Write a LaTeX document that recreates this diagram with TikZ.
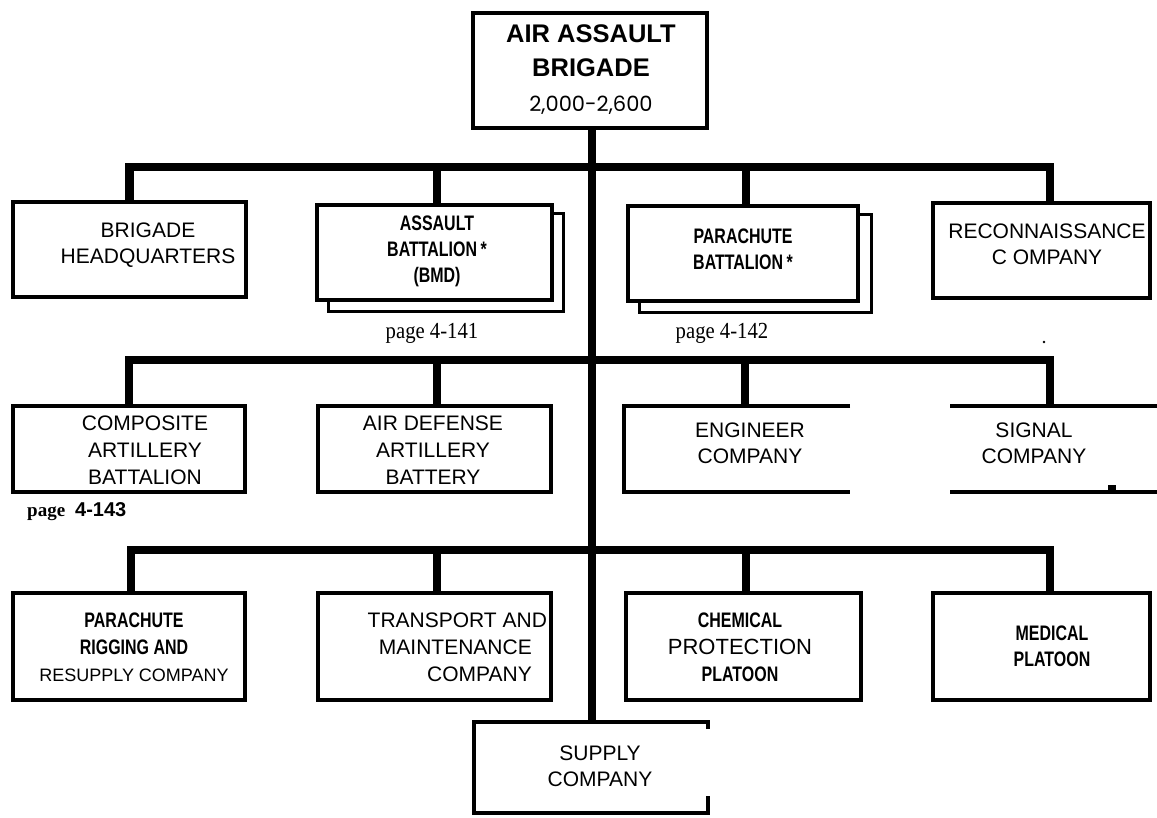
\documentclass[tikz,border=0pt]{standalone}
\usepackage{fontspec}
\setmainfont{Liberation Sans}
\newfontfamily\condb[FakeStretch=0.76]{Liberation Sans}
\newfontfamily\pagefont[FakeStretch=0.9]{Liberation Serif}
\newfontfamily\serifb{Liberation Serif}
\newfontfamily\numfont{Poppins}
\newcommand{\condtxt}{\condb\bfseries\fontsize{21}{26}\selectfont}
\tikzset{
  box/.style={draw, line width=3.5pt, fill=white, inner sep=0pt},
  frame/.style={inner sep=0pt, outer sep=0pt},
  edge/.style={line width=3.5pt, line join=miter},
  shadowedge/.style={line width=3pt, line join=miter},
  bus/.style={line width=8.5pt, line join=miter},
  stub/.style={line width=8.5pt},
  trunk/.style={line width=8pt},
  txt/.style={align=center, inner sep=0pt, font=\fontsize{21}{26}\selectfont},
  txtiii/.style={align=center, inner sep=0pt, font=\fontsize{21}{27}\selectfont},
  pagelbl/.style={inner sep=0pt, font=\pagefont\fontsize{23}{24}\selectfont},
}
\begin{document}
\begin{tikzpicture}[x=1pt,y=-1pt]
\fill[white] (0,0) rectangle (1157,817);
\useasboundingbox (0,0) rectangle (1157,817);

\coordinate (r1) at (0,167);
\coordinate (r2) at (0,360);
\coordinate (r3) at (0,550);

% boxes
\node[box, minimum width=234pt, minimum height=115pt] (top) at (590,70.5) {};
\node[box, minimum width=233pt, minimum height=95pt] (hq) at (129.5,249.5) {};
\node[box, minimum width=235pt, minimum height=95pt] (as) at (434.5,252.5) {};
\node[box, minimum width=230pt, minimum height=95pt] (pa) at (743,253.5) {};
\node[box, minimum width=217pt, minimum height=95pt] (rc) at (1041.5,250.5) {};

\node[box, minimum width=232pt, minimum height=86pt] (cp) at (129,449) {};
\node[box, minimum width=233pt, minimum height=86pt] (ad) at (434.5,449) {};
\node[frame, minimum width=226pt, minimum height=86pt] (en) at (737,449) {};
\node[frame, minimum width=210pt, minimum height=86pt] (sg) at (1055,449) {};

\node[box, minimum width=232pt, minimum height=107pt] (pr) at (129,646.5) {};
\node[box, minimum width=233pt, minimum height=107pt] (tm) at (434.5,646.5) {};
\node[box, minimum width=235pt, minimum height=107pt] (ch) at (743.5,646.5) {};
\node[box, minimum width=217pt, minimum height=107pt] (md) at (1041.5,646.5) {};

\node[frame, minimum width=234pt, minimum height=91pt] (sp) at (591,767.5) {};

% shadows of the battalion boxes
\draw[shadowedge] ([yshift=-10pt]as.north east) -| ([shift={(10pt,-10pt)}]as.south east) -| ([xshift=13pt]as.south west);
\draw[shadowedge] ([yshift=-10pt]pa.north east) -| ([shift={(12pt,-10pt)}]pa.south east) -| ([xshift=13pt]pa.south west);

% open frames
\draw[edge] (en.north east) -- (en.north west) -- (en.south west) -- (en.south east);
\draw[edge] (sg.north west) -- (sg.north east);
\draw[edge] (sg.south west) -- (sg.south east);
\draw[edge] (sp.north east) ++(0,7) -- (sp.north east) -- (sp.north west) -- (sp.south west) -- (sp.south east) -- ++(0,-17);
\fill (1108,485) rectangle (1116,492);
\fill (1044,342) circle (1.3);

% trunk
\draw[trunk] ([xshift=2pt]top.south) -- ([xshift=2pt]top.south |- sp.north);

% row 1
\draw[bus] (hq.north) |- ([xshift=8.5pt]rc.north |- r1) -- ([xshift=8.5pt]rc.north);
\draw[stub] ([xshift=2.5pt]as.north) -- ([xshift=2.5pt]as.north |- r1);
\draw[stub] ([xshift=3pt]pa.north) -- ([xshift=3pt]pa.north |- r1);

% row 2
\draw[bus] (cp.north) |- ([xshift=-5pt]sg.north |- r2) -- ([xshift=-5pt]sg.north);
\draw[stub] ([xshift=2.5pt]ad.north) -- ([xshift=2.5pt]ad.north |- r2);
\draw[stub] ([xshift=8pt]en.north) -- ([xshift=8pt]en.north |- r2);

% row 3
\draw[bus] ([xshift=2pt]pr.north) |- ([xshift=8.5pt]md.north |- r3) -- ([xshift=8.5pt]md.north);
\draw[stub] ([xshift=2.5pt]tm.north) -- ([xshift=2.5pt]tm.north |- r3);
\draw[stub] ([xshift=2.5pt]ch.north) -- ([xshift=2.5pt]ch.north |- r3);

% texts
\node[align=center, inner sep=0pt, font=\bfseries\fontsize{25.5}{34}\selectfont] (topt) at (591,70)
  {AIR ASSAULT\\BRIGADE\\[1pt]{\numfont\mdseries\fontsize{21}{22}\selectfont 2,000-2,600}};
\node[txt] (hqt) at (148,245) {BRIGADE\\HEADQUARTERS};
\node[txt, font=\condtxt] (ast) at (437,251) {ASSAULT\\BATTALION\,*\\(BMD)};
\node[txt, font=\condtxt] (pat) at (743,249) {PARACHUTE\\BATTALION\,*};
\node[txt] (rct) at (1047,244) {RECONNAISSANCE\\C OMPANY};
\node[pagelbl] (p141) at (432,333) {page 4-141};
\node[pagelbl] (p142) at (722,333) {page 4-142};

\node[txtiii] (cpt) at (145,450) {COMPOSITE\\ARTILLERY\\BATTALION};
\node[txtiii] (adt) at (433,450) {AIR DEFENSE\\ARTILLERY\\BATTERY};
\node[txt] (ent) at (750,443) {ENGINEER\\COMPANY};
\node[txt] (sgt) at (1034,443) {SIGNAL\\COMPANY};
\node[anchor=west, inner sep=0pt] (p143) at (27,512)
  {{\serifb\bfseries\fontsize{19}{20}\selectfont page}\hspace{10pt}{\bfseries\fontsize{20}{20}\selectfont 4-143}};

\node[txtiii] (prt) at (134,647) {{\condtxt PARACHUTE}\\{\condtxt RIGGING AND}\\{\fontsize{18}{27}\selectfont RESUPPLY COMPANY}};
\node[txtiii, align=right, anchor=east] (tmt) at (532,647) {TRANSPORT AN\rlap{D}\\MAINTENANCE\\COMPANY};
\node[txtiii] (cht) at (740,647) {{\condtxt CHEMICAL}\\{\fontsize{22}{27}\selectfont PROTECTION}\\{\condtxt PLATOON}};
\node[txt, font=\condtxt] (mdt) at (1052,646) {MEDICAL\\PLATOON};
\node[txt] (spt) at (600,766) {SUPPLY\\COMPANY};
\end{tikzpicture}
\end{document}
